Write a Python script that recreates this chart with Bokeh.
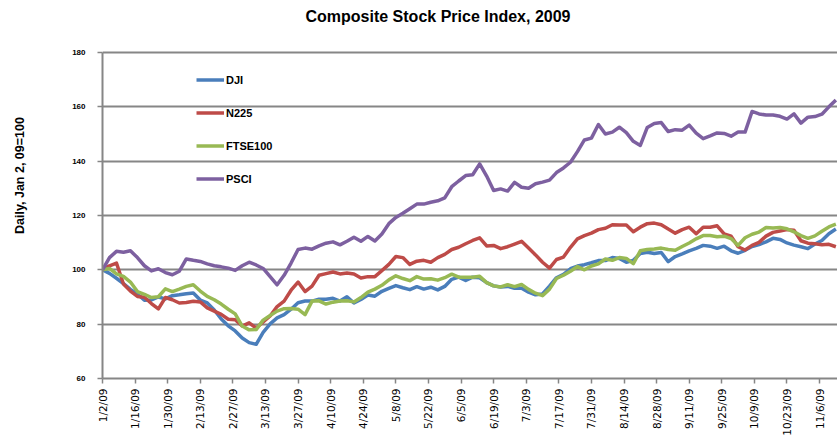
import math
from datetime import datetime, timedelta

from bokeh.plotting import figure
from bokeh.layouts import row
from bokeh.models import FixedTicker, Legend, LegendItem, Label, Range1d
from bokeh.embed import file_html
from bokeh.resources import INLINE

# ---------------- data ----------------
title_text = "Composite Stock Price  Index, 2009"
y_title = "Daily, Jan 2, 09=100"
start_date = "2009-01-02"
step_days = 3          # one reading every 3 calendar days
view_days = 315.7      # visible span of the x axis

tick_labels = ["1/2/09", "1/16/09", "1/30/09", "2/13/09", "2/27/09", "3/13/09",
               "3/27/09", "4/10/09", "4/24/09", "5/8/09", "5/22/09", "6/5/09",
               "6/19/09", "7/3/09", "7/17/09", "7/31/09", "8/14/09", "8/28/09",
               "9/11/09", "9/25/09", "10/9/09", "10/23/09", "11/6/09"]
y_ticks = [60, 80, 100, 120, 140, 160, 180]

series_names = ["DJI", "N225", "FTSE100", "PSCI"]

dji = [100, 98.7, 96.9, 94.9, 92.8, 91.1, 88.8, 88.9, 90.0, 89.3,
       90.5, 90.8, 91.2, 91.5, 88.9, 87.8, 85.2, 81.9, 79.4, 77.5,
       74.9, 73.2, 72.6, 77.0, 80.1, 82.3, 83.5, 85.5, 87.9, 88.5,
       88.5, 89.2, 89.2, 89.5, 88.5, 90.1, 87.8, 89.1, 90.7, 90.3,
       92.1, 93.2, 94.2, 93.4, 92.7, 93.8, 92.9, 93.6, 92.6, 93.9,
       96.5, 97.3, 96.1, 97.3, 97.1, 95.3, 94.1, 93.7, 93.9, 93.2,
       93.2, 91.8, 90.8, 91.1, 94.0, 97.1, 98.3, 100.4, 101.4, 101.9,
       102.6, 103.4, 103.4, 104.5, 104.2, 102.8, 103.5, 106.0, 106.5, 106.0,
       106.4, 103.0, 104.9, 105.9, 107.0, 107.9, 109.0, 108.7, 107.9, 108.7,
       107.0, 106.1, 107.2, 108.6, 109.3, 110.3, 111.6, 111.2, 109.9, 109.1,
       108.5, 107.8, 109.5, 110.8, 113.3, 115.0]

n225 = [100, 101.5, 102.5, 94.8, 92.2, 90.2, 89.9, 87.6, 85.6, 89.8,
        89.0, 87.8, 88.0, 88.4, 88.2, 86.0, 84.8, 83.6, 81.8, 81.6,
        79.3, 80.5, 78.6, 80.8, 83.0, 86.5, 88.5, 92.5, 95.5, 92.0,
        94.0, 98.0, 98.6, 99.2, 98.5, 98.8, 98.5, 97.0, 97.5, 97.5,
        99.7, 102.0, 104.9, 104.5, 102.0, 103.2, 103.5, 102.8, 104.5, 105.7,
        107.5, 108.3, 109.6, 110.8, 111.8, 108.8, 109.0, 107.8, 108.5, 109.5,
        110.5, 108.0, 105.5, 102.8, 100.6, 103.8, 104.7, 108.3, 111.4, 112.6,
        113.5, 114.8, 115.3, 116.6, 116.5, 116.5, 114.0, 115.7, 117.0, 117.2,
        116.6, 115.0, 113.5, 114.8, 115.7, 113.3, 115.7, 115.7, 116.2, 113.2,
        112.4, 108.5, 107.3, 109.0, 110.1, 112.4, 113.8, 114.3, 114.8, 114.6,
        110.7, 109.8, 109.6, 109.2, 109.4, 108.5]

ftse100 = [100, 100.5, 98.5, 97.6, 95.5, 92.0, 91.0, 89.8, 90.1, 93.0,
           92.0, 92.9, 93.9, 94.5, 92.2, 90.2, 89.0, 87.4, 85.5, 83.8,
           79.3, 77.9, 78.0, 81.5, 83.2, 84.8, 85.7, 85.8, 85.5, 83.5,
           88.5, 88.6, 87.4, 88.1, 88.5, 88.6, 88.2, 89.8, 91.8, 92.9,
           94.3, 96.3, 97.8, 96.8, 96.0, 97.5, 96.6, 96.7, 96.2, 97.1,
           98.4, 97.3, 97.3, 97.3, 97.6, 95.3, 94.1, 93.7, 94.5, 93.8,
           94.6, 92.8, 91.4, 90.5, 92.9, 96.8, 98.0, 99.5, 101.2, 100.0,
           101.4, 102.2, 104.0, 103.5, 104.5, 104.2, 102.3, 107.0, 107.5, 107.7,
           108.0, 107.5, 107.2, 108.6, 109.9, 111.4, 112.6, 112.6, 112.2, 112.4,
           111.5, 109.0, 111.8, 113.1, 113.9, 115.6, 115.4, 115.6, 115.1, 114.0,
           112.6, 111.6, 112.5, 114.2, 115.8, 116.8]

psci = [100, 104.5, 106.8, 106.5, 107.0, 104.5, 101.5, 99.6, 100.4, 99.0,
        98.2, 99.5, 104.0, 103.5, 103.1, 102.2, 101.5, 101.1, 100.6, 99.8,
        101.5, 102.8, 101.8, 100.5, 97.5, 94.5, 98.0, 102.5, 107.5, 108.0,
        107.6, 108.8, 109.8, 110.3, 109.2, 110.5, 112.0, 110.5, 112.3, 110.6,
        113.2, 117.0, 119.3, 120.8, 122.5, 124.2, 124.2, 124.9, 125.4, 126.5,
        130.6, 132.7, 134.7, 135.0, 139.0, 134.5, 129.2, 129.8, 129.0, 132.2,
        130.4, 130.0, 131.7, 132.3, 133.0, 135.8, 137.5, 139.6, 143.5, 147.8,
        148.5, 153.5, 150.0, 150.7, 152.5, 150.5, 147.3, 145.8, 152.4, 153.9,
        154.2, 150.9, 151.6, 151.4, 153.3, 150.3, 148.3, 149.3, 150.4, 150.2,
        149.2, 150.7, 150.7, 158.3, 157.4, 157.0, 157.0, 156.5, 155.5, 157.4,
        154.0, 156.2, 156.4, 157.3, 160.0, 162.5]

colors = ["#4A7EBB", "#BE4B48", "#98B954", "#7D60A0"]

# ---------------- helpers ----------------
EPOCH = datetime(1970, 1, 1)


def to_ms(d):
    return int((d - EPOCH).total_seconds() * 1000)


t0 = datetime.strptime(start_date, "%Y-%m-%d")
x_vals = [to_ms(t0 + timedelta(days=step_days * i)) for i in range(len(dji))]
tick_ms = [to_ms(datetime.strptime(s, "%m/%d/%y")) for s in tick_labels]

GRID = "#868686"
H = 443
CAP_W = 40           # width of the strip that carries the y caption
FRAME_BOTTOM = 378   # page y of the 60 line
HEADROOM = 52        # pixels above the 180 line, used by the title

px_per_unit = (FRAME_BOTTOM - HEADROOM) / (y_ticks[-1] - y_ticks[0])
y_top = y_ticks[-1] + HEADROOM / px_per_unit

# ---------- caption strip ----------
cap = figure(width=CAP_W, height=H, output_backend="svg", toolbar_location=None,
             x_axis_location=None, y_axis_location=None,
             x_range=Range1d(0, 1), y_range=Range1d(0, 1),
             min_border=0, min_border_left=0, min_border_right=0,
             min_border_top=0, min_border_bottom=0)
cap.outline_line_color = None
cap.xgrid.grid_line_color = None
cap.ygrid.grid_line_color = None
# the row layout aligns this strip's frame bottom with the main chart's frame
cap.add_layout(Label(x=19, y=FRAME_BOTTOM - 175, x_units="screen", y_units="screen",
                     text=y_title, angle=math.pi / 2, text_align="center",
                     text_baseline="middle", text_font="Liberation Sans",
                     text_font_style="bold", text_font_size="12.5px",
                     text_color="black"))

# ---------- main chart ----------
p = figure(width=837 - CAP_W, height=H, output_backend="svg", toolbar_location=None,
           x_range=Range1d(to_ms(t0), to_ms(t0) + view_days * 86400000),
           y_range=Range1d(y_ticks[0], y_top),
           min_border_left=102 - CAP_W, min_border_right=0, min_border_top=0,
           min_border_bottom=H - FRAME_BOTTOM)
p.outline_line_color = None
p.background_fill_color = "white"
p.border_fill_color = "white"

renderers = []
for name, vals, col in zip(series_names, [dji, n225, ftse100, psci], colors):
    r = p.line(x_vals, vals, line_color=col, line_width=3.5, line_join="round")
    renderers.append((name, r))

# axes
p.xaxis.ticker = FixedTicker(ticks=tick_ms)
p.xaxis.major_label_overrides = {ms: lab for ms, lab in zip(tick_ms, tick_labels)}
p.xaxis.major_label_orientation = math.pi / 2
p.xaxis.major_label_text_font = "DejaVu Sans"
p.xaxis.major_label_text_font_size = "10.5px"
p.xaxis.major_label_text_color = "black"
p.xaxis.major_label_standoff = 5

p.yaxis.ticker = FixedTicker(ticks=y_ticks)
p.yaxis.bounds = (y_ticks[0], y_ticks[-1])
p.yaxis.major_label_text_font = "Liberation Sans"
p.yaxis.major_label_text_font_style = "bold"
p.yaxis.major_label_text_font_size = "8px"
p.yaxis.major_label_text_color = "black"
p.yaxis.major_label_standoff = 12

for ax in (p.xaxis, p.yaxis):
    ax.axis_line_color = GRID
    ax.axis_line_width = 2
    ax.major_tick_line_color = GRID
    ax.major_tick_line_width = 1.5
    ax.major_tick_out = 5
    ax.major_tick_in = 0
    ax.minor_tick_line_color = None

p.xgrid.grid_line_color = None
p.ygrid.ticker = FixedTicker(ticks=y_ticks)
p.ygrid.grid_line_color = GRID
p.ygrid.grid_line_width = 2

# title, drawn in the headroom above the 180 line
p.add_layout(Label(x=305 - 102, y=FRAME_BOTTOM - 16, x_units="screen",
                   y_units="screen", text=title_text, text_align="left",
                   text_baseline="middle", text_font="Liberation Sans",
                   text_font_style="bold", text_font_size="16px",
                   text_color="black"))

# legend
legend = Legend(items=[LegendItem(label=n, renderers=[r]) for n, r in renderers],
                location=(94, 192), glyph_width=28, glyph_height=15,
                label_height=15, spacing=18, padding=0, margin=0,
                label_standoff=2, border_line_color=None,
                background_fill_alpha=0,
                label_text_font="Liberation Sans", label_text_font_style="bold",
                label_text_font_size="11px", label_text_color="black")
p.add_layout(legend)

layout = row(cap, p)
open("out.html", "w").write(file_html(layout, INLINE))
